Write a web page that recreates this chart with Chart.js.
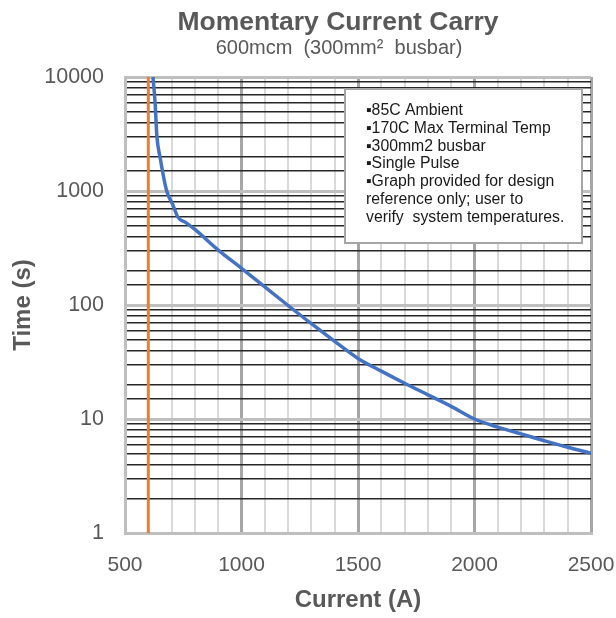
<!DOCTYPE html>
<html>
<head>
<meta charset="utf-8">
<script src="https://cdn.jsdelivr.net/npm/chart.js@4.4.1/dist/chart.umd.min.js"></script>
<style>
  html, body { margin: 0; padding: 0; background: #fff; }
  #wrap { width: 616px; height: 618px; }
</style>
</head>
<body>
<div id="wrap"><canvas id="js-carry-chart" width="616" height="618"></canvas></div>
<script>
// 読み取った値 (電流 A / 時間 s)
const currentVals = [620, 629, 637, 650, 679, 705, 727, 760, 800, 903, 1000, 1100, 1200, 1300, 1400, 1500, 1600, 1700, 1800, 1900, 2000, 2100, 2200, 2300, 2400, 2500];
const timeVals = [10000, 6000, 3000, 2000, 1000, 760, 590, 530, 460, 300, 210, 144, 99, 68.5, 48, 34, 26.3, 20.6, 16.3, 12.9, 10, 8.5, 7.4, 6.45, 5.65, 5.0];
const limitCurrent = [600, 600];
const limitTime = [1, 10000];
const xTickLabels = [500, 1000, 1500, 2000, 2500];
const yTickLabels = [1, 10, 100, 1000, 10000];
const noteLines = [
  '▪85C Ambient',
  '▪170C Max Terminal Temp',
  '▪300mm2 busbar',
  '▪Single Pulse',
  '▪Graph provided for design',
  'reference only; user to',
  'verify  system temperatures.'
];

const curvePts = currentVals.map((x, i) => ({ x: x, y: timeVals[i] }));
const limitPts = limitCurrent.map((x, i) => ({ x: x, y: limitTime[i] }));

const isDecade = v => Math.abs(Math.log10(v) - Math.round(Math.log10(v))) < 1e-9;
const FONT = '"Liberation Sans", Arial, sans-serif';

// タイトルと注記ボックス
const extras = {
  id: 'extras',
  afterDraw(chart) {
    const { ctx, chartArea: { left, right, top } } = chart;
    ctx.save();
    ctx.textAlign = 'center';
    ctx.textBaseline = 'middle';
    ctx.fillStyle = '#595959';
    ctx.font = 'bold 26.5px ' + FONT;
    ctx.fillText('Momentary Current Carry', 338, 23);
    ctx.font = '20px ' + FONT;
    ctx.fillText('600mcm  (300mm²  busbar)', 339, 48);

    const bx = left + 220, by = top + 12, bw = right - 9 - bx, bh = 154;
    ctx.fillStyle = '#ffffff';
    ctx.fillRect(bx, by, bw, bh);
    ctx.strokeStyle = '#a6a6a6';
    ctx.lineWidth = 2;
    ctx.strokeRect(bx, by, bw, bh);

    ctx.fillStyle = '#1a1a1a';
    ctx.textAlign = 'left';
    ctx.font = '15.8px ' + FONT;
    noteLines.forEach((t, i) => ctx.fillText(t, bx + 21, by + 22 + i * 17.7));
    ctx.restore();
  }
};

new Chart(document.getElementById('js-carry-chart').getContext('2d'), {
  type: 'line',
  data: {
    datasets: [
      {
        label: 'Time',
        data: curvePts,
        borderColor: '#4472c4',
        borderWidth: 3.5,
        pointRadius: 0,
        cubicInterpolationMode: 'monotone',
        fill: false
      },
      {
        label: 'Rated',
        data: limitPts,
        borderColor: '#ed7d31',
        borderWidth: 3,
        pointRadius: 0,
        fill: false
      }
    ]
  },
  options: {
    responsive: false,
    animation: false,
    layout: { padding: { top: 77, right: 25, left: 0, bottom: 0 } },
    plugins: { legend: { display: false }, tooltip: { enabled: false }, title: { display: false } },
    scales: {
      x: {
        type: 'linear',
        min: 500,
        max: 2500,
        afterFit(scale) {
          scale.height = 85;
          scale.paddingLeft = 0;
          scale.paddingRight = 0;
        },
        border: { color: '#bfbfbf', width: 3 },
        grid: {
          drawTicks: false,
          color: c => (c.tick && xTickLabels.includes(c.tick.value)) ? '#a6a6a6' : '#d9d9d9',
          lineWidth: c => (c.tick && xTickLabels.includes(c.tick.value)) ? 3 : 2
        },
        ticks: {
          stepSize: 100,
          autoSkip: false,
          maxRotation: 0,
          padding: 20,
          color: '#595959',
          font: { family: FONT, size: 21 },
          callback: v => xTickLabels.includes(v) ? String(v) : ''
        },
        title: {
          display: true,
          text: 'Current (A)',
          color: '#595959',
          font: { family: FONT, size: 24, weight: 'bold' },
          padding: { top: 0, bottom: 3 }
        }
      },
      y: {
        type: 'logarithmic',
        min: 1,
        max: 10000,
        afterFit(scale) {
          scale.width = 125;
          scale.paddingTop = 0;
          scale.paddingBottom = 0;
        },
        border: { color: '#bfbfbf', width: 3 },
        grid: {
          drawTicks: false,
          color: c => (c.tick && isDecade(c.tick.value)) ? '#bfbfbf' : '#262626',
          lineWidth: c => (c.tick && isDecade(c.tick.value)) ? 3 : 1.5
        },
        ticks: {
          autoSkip: false,
          padding: 21,
          color: '#595959',
          font: { family: FONT, size: 21.5 },
          callback: v => yTickLabels.includes(v) ? String(v) : ''
        },
        title: {
          display: true,
          text: 'Time (s)',
          color: '#595959',
          font: { family: FONT, size: 24, weight: 'bold' },
          padding: { top: 9, bottom: 0 }
        }
      }
    }
  },
  plugins: [extras]
});
</script>
</body>
</html>
